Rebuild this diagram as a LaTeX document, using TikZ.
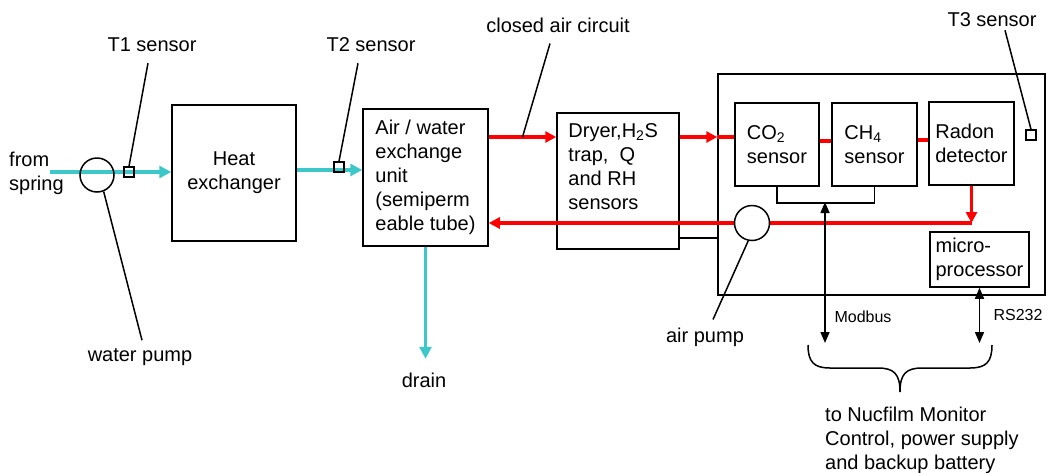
\documentclass[tikz,border=0pt]{standalone}
\usepackage{fontspec}
\setmainfont{Liberation Sans}
\usetikzlibrary{arrows.meta,calc}
\definecolor{watercol}{RGB}{60,200,200}
\definecolor{aircol}{RGB}{255,0,0}

\begin{document}
\begin{tikzpicture}[x=1pt, y=-1pt,
  font=\fontsize{20}{24}\selectfont,
  box/.style={draw, line width=1.5pt, inner sep=0pt, align=left},
  txt/.style={inner sep=0pt, align=left},
  small/.style={inner sep=0pt, font=\fontsize{16}{19}\selectfont},
  water/.style={watercol, line width=3.5pt, -{Triangle[length=12pt,width=12pt]}},
  air/.style={aircol, line width=3.5pt},
  airarr/.style={air, -{Triangle[length=11pt,width=11pt]}},
  wire/.style={line width=1.5pt},
  bus/.style={wire, {Triangle[length=11pt,width=9pt]}-{Triangle[length=11pt,width=9pt]}},
  probe/.style={draw, line width=1.4pt, minimum size=10pt, inner sep=0pt},
  pump/.style={draw, circle, line width=1.5pt, minimum size=35pt, inner sep=0pt}]
  \useasboundingbox (0,0) rectangle (1047,472);

  % labels
  \node[txt, anchor=west] (spring) at (9,173) {from\\spring};
  \node[txt] (t1lab) at (152,45) {T1 sensor};
  \node[txt] (t2lab) at (371,45) {T2 sensor};
  \node[txt] (cairlab) at (558,25) {closed air circuit};
  \node[txt] (t3lab) at (992,20) {T3 sensor};
  \node[txt] (wplab) at (140,357) {water pump};
  \node[txt] (drainlab) at (424,380) {drain};
  \node[txt] (aplab) at (705,337) {air pump};
  \node[small] (modlab) at (863,317) {Modbus};
  \node[small] (rslab) at (1018,315) {RS232};
  \node[txt, anchor=north west] (destlab) at (825,407) {to Nucfilm Monitor\\Control, power supply\\and backup battery};

  % boxes
  \node[box, align=center, minimum width=124pt, minimum height=136pt] (heat) at (234,173) {Heat\\exchanger};
  \node[box, minimum width=125pt, minimum height=137pt] (airw) at (425.5,177.5) {Air / water\\exchange\\unit\\(semiperm\\eable tube)};
  \node[box, minimum width=122pt, minimum height=136pt] (dryer) at (618,181) {};
  \node[txt, anchor=north west] (dryerlab) at ([shift={(12,11)}]dryer.north west) {Dryer,H\textsubscript{2}S\\trap,~~Q\\and RH\\sensors};
  \node[box, minimum width=327pt, minimum height=221pt] (monitor) at (881.5,184.5) {};
  \node[box, minimum width=84pt, minimum height=83pt] (co2) at (777,144.5) {CO\textsubscript{2}\\sensor};
  \node[box, minimum width=85pt, minimum height=83pt] (ch4) at (874.5,144.5) {CH\textsubscript{4}\\sensor};
  \node[box, minimum width=85pt, minimum height=83pt] (radon) at (971.5,143.5) {Radon\\detector};
  \node[box, minimum width=99pt, minimum height=55pt] (micro) at (979.5,259.5) {micro-\\processor};

  \coordinate (src) at (50,172);
  \coordinate (wp) at (97,175);
  \coordinate (ap) at (752,223);
  \coordinate (modtop) at (825,202);
  \coordinate (modend) at (825,343);

  % water side
  \draw[water] (src) -- (heat.west |- src);
  \draw[water] (heat.east |- 0,170) -- (airw.west |- 0,170);
  \draw[water] (airw.south) -- ++(0,112) coordinate (drainend);

  % closed air circuit
  \draw[airarr] (airw.east |- 0,137) -- (dryer.west |- 0,137);
  \draw[airarr] (dryer.east |- 0,137) -- (monitor.west |- 0,137);
  \draw[air] (monitor.west |- 0,137) -- (co2.west |- 0,137);
  \draw[air] (co2.east |- 0,141) -- (ch4.west |- 0,141);
  \draw[air] (ch4.east |- 0,140) -- (radon.west |- 0,140);
  \draw[airarr] (radon.south) -- (radon.south |- ap);
  \draw[airarr] (radon.south |- ap) -- (airw.east |- ap);

  % wiring
  \draw[wire] (dryer.east |- 0,238) -- (monitor.west |- 0,238);
  \draw[wire] (co2.south) -- ++(0,16) -| (ch4.south);
  \draw[bus] (modtop) -- (modend);
  \draw[bus] (micro.south) -- (micro.south |- modend);

  % pumps and probes
  \node[pump, minimum size=34pt] (wpump) at (wp) {};
  \node[pump, fill=white] (apump) at (ap) {};
  \node[probe] (t1) at (129,172) {};
  \node[probe] (t2) at (339,167) {};
  \node[probe] (t3) at (1031,135) {};

  % leaders
  \draw[wire] (t1.north) -- ([shift={(-4,11)}]t1lab.south);
  \draw[wire] (t2.north) -- ([shift={(-13,11)}]t2lab.south);
  \draw[wire] (t3.north) -- ([shift={(13,3)}]t3lab.south);
  \draw[wire] ($(airw.east |- 0,137)!0.5!(dryer.west |- 0,137)$) -- ([shift={(-8,11)}]cairlab.south);
  \draw[wire] (wpump.-68) -- ([shift={(2,-8)}]wplab.north);
  \draw[wire] (apump.-102) -- ([shift={(8,-8)}]aplab.north);

  % brace
  \draw[wire] (808,345) .. controls (808,362) and (814,368) .. (830,368) -- (878,368)
    .. controls (894,368) and (900,374) .. (900,392)
    .. controls (900,374) and (906,368) .. (922,368) -- (970,368)
    .. controls (986,368) and (992,362) .. (992,345);
\end{tikzpicture}
\end{document}
